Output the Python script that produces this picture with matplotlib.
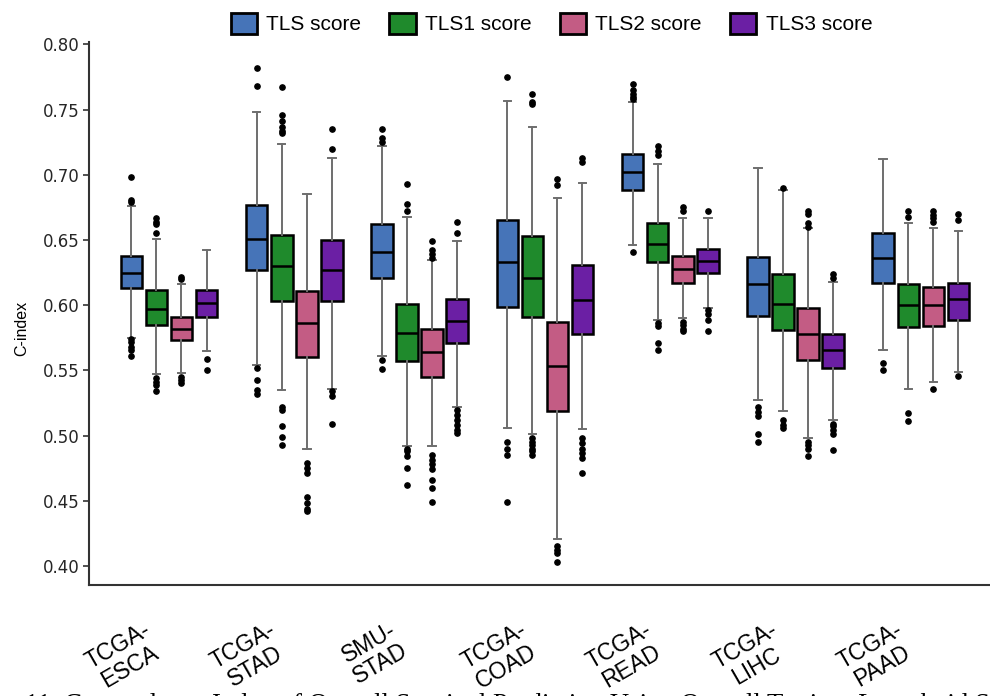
import matplotlib
matplotlib.use('Agg')
import matplotlib.pyplot as plt
import matplotlib.transforms as mtransforms
from matplotlib.patches import Patch

# cohorts and the four scores
cohorts = ['TCGA-\nESCA', 'TCGA-\nSTAD', 'SMU-\nSTAD', 'TCGA-\nCOAD', 'TCGA-\nREAD', 'TCGA-\nLIHC', 'TCGA-\nPAAD']
scores = ['TLS score', 'TLS1 score', 'TLS2 score', 'TLS3 score']
colors = ['#4674b8', '#1f8a2c', '#c35c84', '#6b1fa4']

# box summaries per score: lower whisker, q1, median, q3, upper whisker
tls_lo = [0.575, 0.554, 0.561, 0.506, 0.646, 0.527, 0.566]
tls_q1 = [0.613, 0.627, 0.621, 0.599, 0.688, 0.592, 0.617]
tls_med = [0.625, 0.651, 0.641, 0.633, 0.702, 0.616, 0.636]
tls_q3 = [0.638, 0.677, 0.662, 0.665, 0.716, 0.637, 0.655]
tls_hi = [0.676, 0.748, 0.722, 0.757, 0.756, 0.705, 0.712]
tls_fliers = [
    [0.698, 0.681, 0.679, 0.574, 0.572, 0.568, 0.566, 0.561],
    [0.782, 0.768, 0.552, 0.543, 0.535, 0.532],
    [0.735, 0.728, 0.725, 0.558, 0.551],
    [0.775, 0.495, 0.490, 0.485, 0.449],
    [0.770, 0.765, 0.762, 0.760, 0.758, 0.641],
    [0.522, 0.518, 0.515, 0.501, 0.495],
    [0.556, 0.550],
]

tls1_lo = [0.547, 0.535, 0.492, 0.501, 0.589, 0.519, 0.536]
tls1_q1 = [0.585, 0.603, 0.557, 0.591, 0.633, 0.581, 0.583]
tls1_med = [0.597, 0.630, 0.579, 0.621, 0.647, 0.601, 0.600]
tls1_q3 = [0.612, 0.654, 0.601, 0.653, 0.663, 0.624, 0.616]
tls1_hi = [0.651, 0.724, 0.668, 0.737, 0.708, 0.688, 0.663]
tls1_fliers = [
    [0.667, 0.664, 0.662, 0.655, 0.544, 0.541, 0.539, 0.534],
    [0.767, 0.746, 0.741, 0.737, 0.734, 0.732, 0.522, 0.520, 0.507, 0.499, 0.493],
    [0.693, 0.678, 0.672, 0.490, 0.488, 0.484, 0.475, 0.462],
    [0.762, 0.756, 0.754, 0.498, 0.495, 0.493, 0.490, 0.488, 0.485],
    [0.722, 0.718, 0.715, 0.586, 0.584, 0.571, 0.566],
    [0.690, 0.512, 0.508, 0.506],
    [0.672, 0.668, 0.517, 0.511],
]

tls2_lo = [0.548, 0.490, 0.492, 0.421, 0.590, 0.498, 0.541]
tls2_q1 = [0.573, 0.560, 0.545, 0.519, 0.617, 0.558, 0.584]
tls2_med = [0.582, 0.586, 0.564, 0.553, 0.628, 0.578, 0.600]
tls2_q3 = [0.591, 0.611, 0.582, 0.587, 0.638, 0.598, 0.614]
tls2_hi = [0.616, 0.685, 0.635, 0.682, 0.667, 0.659, 0.659]
tls2_fliers = [
    [0.622, 0.620, 0.545, 0.543, 0.540],
    [0.479, 0.475, 0.471, 0.453, 0.448, 0.444, 0.442],
    [0.649, 0.642, 0.639, 0.636, 0.485, 0.481, 0.478, 0.474, 0.466, 0.460, 0.449],
    [0.697, 0.692, 0.415, 0.412, 0.410, 0.403],
    [0.675, 0.672, 0.587, 0.585, 0.582, 0.580],
    [0.672, 0.670, 0.663, 0.660, 0.495, 0.493, 0.490, 0.484],
    [0.672, 0.669, 0.667, 0.664, 0.536],
]

tls3_lo = [0.565, 0.536, 0.522, 0.505, 0.598, 0.512, 0.549]
tls3_q1 = [0.591, 0.603, 0.571, 0.578, 0.625, 0.552, 0.589]
tls3_med = [0.602, 0.627, 0.588, 0.604, 0.634, 0.566, 0.605]
tls3_q3 = [0.612, 0.650, 0.605, 0.631, 0.643, 0.578, 0.617]
tls3_hi = [0.642, 0.713, 0.649, 0.694, 0.667, 0.618, 0.657]
tls3_fliers = [
    [0.559, 0.550],
    [0.735, 0.720, 0.534, 0.530, 0.509],
    [0.664, 0.655, 0.520, 0.516, 0.512, 0.508, 0.504, 0.502],
    [0.713, 0.710, 0.498, 0.494, 0.490, 0.487, 0.483, 0.471],
    [0.672, 0.596, 0.593, 0.589, 0.580],
    [0.624, 0.621, 0.509, 0.507, 0.504, 0.501, 0.489],
    [0.670, 0.665, 0.546],
]

series = [
    (tls_lo, tls_q1, tls_med, tls_q3, tls_hi, tls_fliers),
    (tls1_lo, tls1_q1, tls1_med, tls1_q3, tls1_hi, tls1_fliers),
    (tls2_lo, tls2_q1, tls2_med, tls2_q3, tls2_hi, tls2_fliers),
    (tls3_lo, tls3_q1, tls3_med, tls3_q3, tls3_hi, tls3_fliers),
]

fig = plt.figure(figsize=(9.9, 6.96), dpi=100)
ax = fig.add_axes([0.0899, 0.1595, 0.9101, 0.780])

offsets = [-0.3, -0.1, 0.1, 0.3]
for k, (lo, q1, med, q3, hi, fl) in enumerate(series):
    stats = []
    for i in range(len(cohorts)):
        stats.append({'whislo': lo[i], 'q1': q1[i], 'med': med[i], 'q3': q3[i],
                      'whishi': hi[i], 'fliers': fl[i]})
    pos = [i + offsets[k] for i in range(len(cohorts))]
    ax.bxp(stats, positions=pos, widths=0.172, capwidths=0.06, patch_artist=True,
           showfliers=True,
           boxprops=dict(facecolor=colors[k], edgecolor='black', linewidth=1.8),
           medianprops=dict(color='black', linewidth=1.8),
           whiskerprops=dict(color='#6e6e6e', linewidth=1.4),
           capprops=dict(color='#6e6e6e', linewidth=1.4),
           flierprops=dict(marker='o', markerfacecolor='black', markeredgecolor='black',
                           markersize=3.8))

ax.set_xlim(-0.638, 6.552)
ax.set_ylim(0.3854, 0.8018)
ax.set_yticks([0.40, 0.45, 0.50, 0.55, 0.60, 0.65, 0.70, 0.75, 0.80])
ax.set_yticklabels(['0.40', '0.45', '0.50', '0.55', '0.60', '0.65', '0.70', '0.75', '0.80'])
ax.tick_params(axis='y', length=4, width=1.2, color='#333333', pad=3, labelsize=12,
               labelcolor='#262626')

ax.set_xticks(range(len(cohorts)))
ax.set_xticklabels(cohorts, rotation=30, fontsize=16.5, family='Liberation Sans',
                   linespacing=1.05)
ax.tick_params(axis='x', length=0, pad=24)
shift = mtransforms.ScaledTranslation(-0.45, 0, fig.dpi_scale_trans)
for lab in ax.get_xticklabels():
    lab.set_transform(lab.get_transform() + shift)

for side in ['top', 'right']:
    ax.spines[side].set_visible(False)
for side in ['left', 'bottom']:
    ax.spines[side].set_color('#333333')
    ax.spines[side].set_linewidth(1.5)

ax.set_ylabel('C-index', fontsize=11.5, family='Liberation Sans')
ax.yaxis.set_label_coords(-0.0666, 0.473)

handles = [Patch(facecolor=c, edgecolor='black', linewidth=2, label=s)
           for c, s in zip(colors, scores)]
fig.legend(handles=handles, loc='center', bbox_to_anchor=(0.557, 1 - 23.5 / 696), ncol=4,
           frameon=False, prop={'family': 'Liberation Sans', 'size': 15},
           handlelength=1.25, handleheight=1.2, handletextpad=0.45, columnspacing=1.36)

# figure caption, running off the bottom edge
fig.text(25 / 990, 1 - 712 / 696,
         '11. Concordance Index of Overall Survival Prediction Using Overall Tertiary Lymphoid Structure Scores',
         family='Liberation Serif', fontsize=19.3, ha='left', va='baseline')

fig.savefig('out.png', dpi=100)
